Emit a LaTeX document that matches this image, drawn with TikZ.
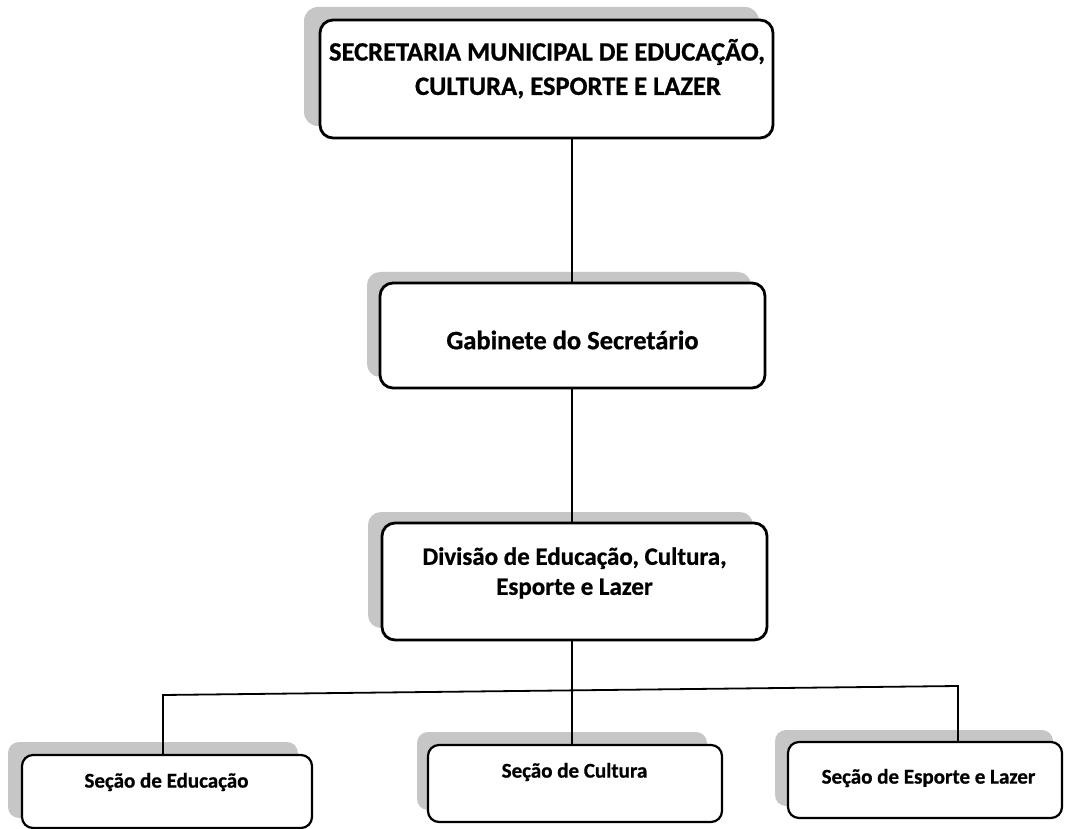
\documentclass[tikz,border=0pt]{standalone}
\usepackage{fontspec}
\setmainfont{Carlito}[BoldFeatures={FakeBold=0.8}]
\usetikzlibrary{calc}
\definecolor{shadowgray}{HTML}{C6C6C6}
\tikzset{
  orgbox/.style={draw=black, line width=2.8pt, fill=white, rounded corners=13pt, inner sep=0pt},
  smallbox/.style={draw=black, line width=2.2pt, fill=white, rounded corners=11pt, inner sep=0pt},
  conn/.style={draw=black, line width=2.2pt},
  bigtext/.style={font=\fontsize{26.5}{32}\selectfont\bfseries, inner sep=0pt, align=center},
  midtext/.style={font=\fontsize{25}{30}\selectfont\bfseries, inner sep=0pt, align=center},
  smalltext/.style={font=\fontsize{21}{25}\selectfont\bfseries, inner sep=0pt, align=center}
}
\begin{document}
\begin{tikzpicture}[x=1pt,y=-1pt]
\useasboundingbox[fill=white] (0,0) rectangle (1085,829);
% shadows
\fill[shadowgray, rounded corners=14pt] (304,7) rectangle (759,126);
\fill[shadowgray, rounded corners=13pt] (367,272) rectangle (751,377);
\fill[shadowgray, rounded corners=13pt] (368,512) rectangle (753,628);
\fill[shadowgray, rounded corners=11pt] (8,742) rectangle (298,818);
\fill[shadowgray, rounded corners=11pt] (417,732) rectangle (707,810);
\fill[shadowgray, rounded corners=11pt] (775,730) rectangle (1053,806);
% boxes
\node[orgbox, minimum width=453pt, minimum height=118pt] (top) at (546.5,79) {};
\node[orgbox, minimum width=385pt, minimum height=105pt] (gab) at (572.5,335.5) {};
\node[orgbox, minimum width=385pt, minimum height=117pt] (div) at (574.5,581.5) {};
\node[smallbox, minimum width=290pt, minimum height=73pt] (edu) at (167,791.5) {};
\node[smallbox, minimum width=294pt, minimum height=77pt] (cul) at (575,783.5) {};
\node[smallbox, minimum width=274pt, minimum height=76pt] (esp) at (925,780) {};
% texts
\node[bigtext] (toptxtA) at (547,52) {SECRETARIA MUNICIPAL DE EDUCAÇÃO,};
\node[bigtext] (toptxtB) at (568,88) {CULTURA, ESPORTE E LAZER};
\node[bigtext] (gabtxt) at (572.5,340) {Gabinete do Secretário};
\node[midtext] (divtxt) at (574.5,573) {Divisão de Educação, Cultura,\\Esporte e Lazer};
\node[smalltext] (edutxt) at (166.5,782) {Seção de Educação};
\node[smalltext] (cultxt) at (574.5,772) {Seção de Cultura};
\node[smalltext] (esptxt) at (928.5,778) {Seção de Esporte e Lazer};
% connectors
\coordinate (spine) at (572,0);
\coordinate (busL) at (163,695);
\coordinate (busR) at (958,686);
\coordinate (busM) at (572,690.5);
\draw[conn] (spine |- top.south) -- (spine |- gab.north);
\draw[conn] (spine |- gab.south) -- (spine |- div.north);
\draw[conn] (spine |- div.south) -- (busM) -- (spine |- cul.north);
\draw[conn, line width=1.8pt] (busL |- edu.north) -- (busL) -- (busR) -- (busR |- esp.north);
\end{tikzpicture}
\end{document}
